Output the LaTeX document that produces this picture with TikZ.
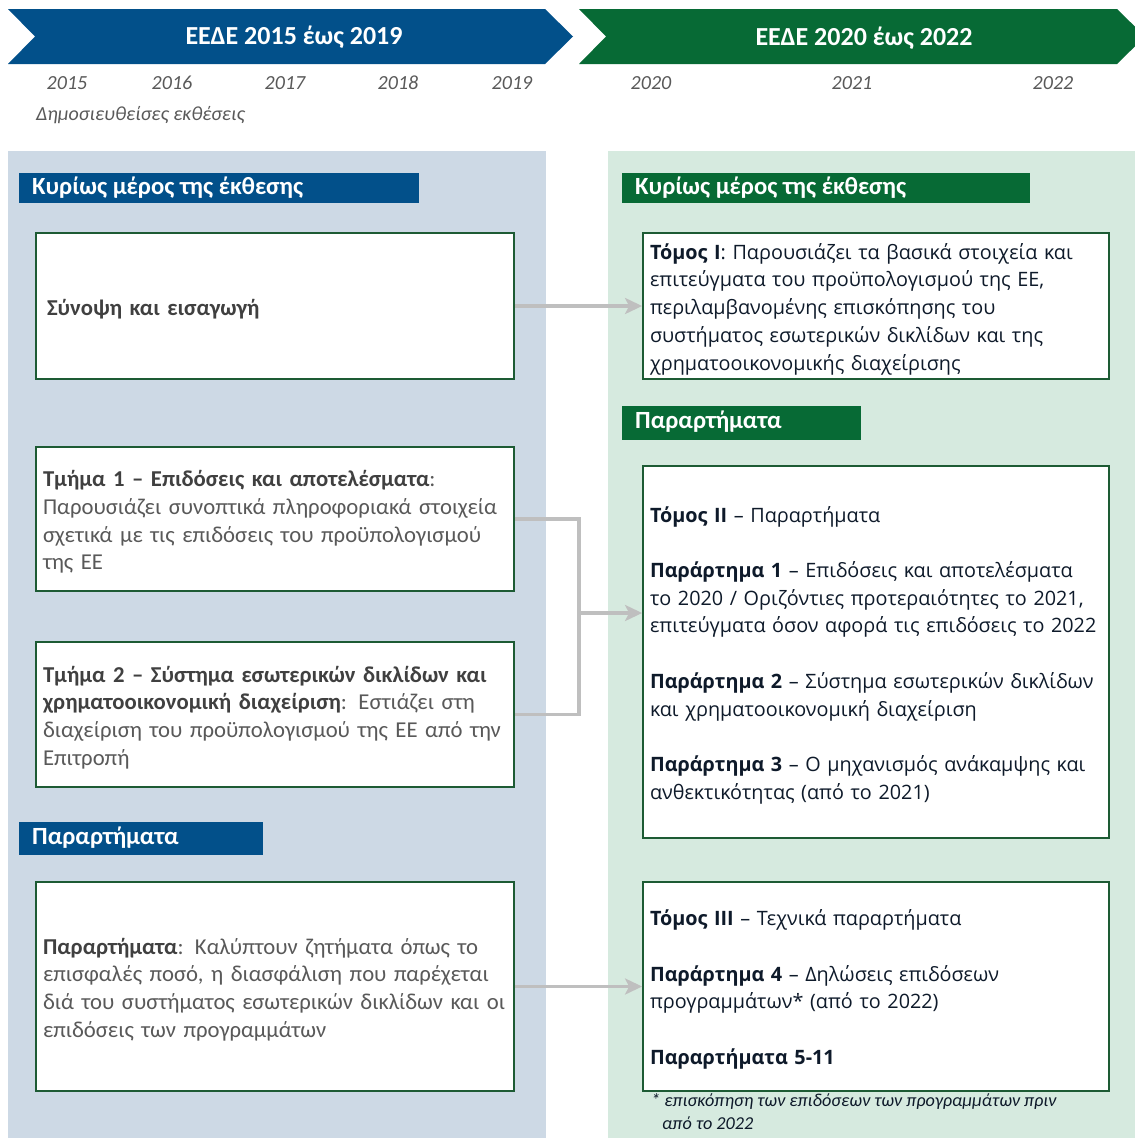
\documentclass[tikz,border=0pt]{standalone}
\usepackage{fontspec}
\setmainfont{Carlito}
\newfontfamily\osans{Open Sans}
\usetikzlibrary{arrows.meta}
\definecolor{dblue}{HTML}{02508A}
\definecolor{dgreen}{HTML}{076A35}
\definecolor{lblue}{HTML}{CDD9E5}
\definecolor{lgreen}{HTML}{D6EADF}
\definecolor{bordergreen}{HTML}{1D5B34}
\definecolor{conngray}{HTML}{BFBFBF}
\definecolor{ltext}{HTML}{595959}
\definecolor{lbold}{HTML}{404040}
\definecolor{rtext}{HTML}{0E1A2A}
\definecolor{yeargray}{HTML}{595959}
\begin{document}
\begin{tikzpicture}[x=1pt,y=-1pt,
  chevtitle/.style={text=white,font=\fontsize{26}{30}\selectfont\bfseries,inner sep=0pt},
  yearlbl/.style={text=yeargray,font=\fontsize{20}{24}\selectfont\itshape,inner sep=0pt},
  sechead/.style={text=white,font=\fontsize{24.7}{28}\selectfont\bfseries,anchor=west,inner sep=0pt},
  boxframe/.style={draw=bordergreen,line width=1.8pt,fill=white,inner sep=0pt},
  lbox/.style={boxframe,minimum width=478pt},
  rbox/.style={boxframe,minimum width=466pt},
  ltxt/.style={inner xsep=7pt,inner ysep=0pt,yshift=-3pt,text width=464pt,align=left,text=ltext,
    font=\fontsize{22.7}{27.7}\selectfont},
  rtxt/.style={inner xsep=7pt,inner ysep=0pt,yshift=-3pt,text width=452pt,align=left,text=rtext,
    font=\osans\fontsize{19.8}{27.7}\selectfont},
  conn/.style={draw=conngray,line width=3.2pt},
  arr/.style={conn,-{Stealth[length=17pt,width=16pt,inset=4pt]}},
  fnote/.style={text=rtext,font=\fontsize{18.2}{22}\selectfont\itshape,anchor=west,inner sep=0pt}
]
\clip (0,0) rectangle (1135,1138);
\fill[white] (0,0) rectangle (1135,1138);
% chevrons
\fill[dblue] (8,9) -- (545,9) -- (573,36.5) -- (545,64) -- (8,64) -- (35,36.5) -- cycle;
\fill[dgreen] (579,9) -- (1117,9) -- (1145,36.5) -- (1117,64) -- (579,64) -- (606,36.5) -- cycle;
\node[chevtitle] (t1) at (294,37) {ΕΕΔΕ 2015 έως 2019};
\node[chevtitle] (t2) at (864,38) {ΕΕΔΕ 2020 έως 2022};
% years
\node[yearlbl] (y15) at (67,83) {2015};
\node[yearlbl] (y16) at (172,83) {2016};
\node[yearlbl] (y17) at (285,83) {2017};
\node[yearlbl] (y18) at (398,83) {2018};
\node[yearlbl] (y19) at (512,83) {2019};
\node[yearlbl] (y20) at (651,83) {2020};
\node[yearlbl] (y21) at (852,83) {2021};
\node[yearlbl] (y22) at (1053,83) {2022};
\node[yearlbl,anchor=west] (pub) at (36,115) {Δημοσιευθείσες εκθέσεις};
% panels
\fill[lblue] (8,151) rectangle (546,1138);
\fill[lgreen] (608,151) rectangle (1135,1138);
% section headers
\fill[dblue] (19,173) rectangle (419,203);
\node[sechead] (h1) at (32,188) {Κυρίως μέρος της έκθεσης};
\fill[dgreen] (622,173) rectangle (1030,203);
\node[sechead] (h2) at (635,188) {Κυρίως μέρος της έκθεσης};
\fill[dblue] (19,822) rectangle (263,855);
\node[sechead] (h3) at (32,838) {Παραρτήματα};
\fill[dgreen] (622,406) rectangle (861,440);
\node[sechead] (h4) at (635,422) {Παραρτήματα};
% left boxes
\node[lbox,minimum height=146pt] (b1) at (275,306) {};
\node[ltxt] (b1t) at (b1) {\hspace*{4pt}\textcolor{lbold}{\bfseries Σύνοψη και εισαγωγή}};
\node[lbox,minimum height=144pt] (b2) at (275,519) {};
\node[ltxt] (b2t) at (b2) {\textcolor{lbold}{\bfseries Τμήμα 1 – Επιδόσεις και αποτελέσματα}:\\
Παρουσιάζει συνοπτικά πληροφοριακά στοιχεία\\
σχετικά με τις επιδόσεις του προϋπολογισμού\\
της ΕΕ};
\node[lbox,minimum height=145pt] (b3) at (275,714.5) {};
\node[ltxt] (b3t) at (b3) {\textcolor{lbold}{\bfseries Τμήμα 2 – Σύστημα εσωτερικών δικλίδων και}\\
\textcolor{lbold}{\bfseries χρηματοοικονομική διαχείριση}: Εστιάζει στη\\
διαχείριση του προϋπολογισμού της ΕΕ από την\\
Επιτροπή};
\node[lbox,minimum height=209pt] (b4) at (275,986.5) {};
\node[ltxt] (b4t) at (b4) {\textcolor{lbold}{\bfseries Παραρτήματα}: Καλύπτουν ζητήματα όπως το\\
επισφαλές ποσό, η διασφάλιση που παρέχεται\\
διά του συστήματος εσωτερικών δικλίδων και οι\\
επιδόσεις των προγραμμάτων};
% right boxes
\node[rbox,minimum height=146pt] (r1) at (876,306) {};
\node[rtxt] (r1t) at (r1) {\textbf{Τόμος I}: Παρουσιάζει τα βασικά στοιχεία και\\
επιτεύγματα του προϋπολογισμού της ΕΕ,\\
περιλαμβανομένης επισκόπησης του\\
συστήματος εσωτερικών δικλίδων και της\\
χρηματοοικονομικής διαχείρισης};
\node[rbox,minimum height=372pt] (r2) at (876,652) {};
\node[rtxt] (r2t) at (r2) {\textbf{Τόμος II} – Παραρτήματα\\[27.7pt]
\textbf{Παράρτημα 1} – Επιδόσεις και αποτελέσματα\\
το 2020 / Οριζόντιες προτεραιότητες το 2021,\\
επιτεύγματα όσον αφορά τις επιδόσεις το 2022\\[27.7pt]
\textbf{Παράρτημα 2} – Σύστημα εσωτερικών δικλίδων\\
και χρηματοοικονομική διαχείριση\\[27.7pt]
\textbf{Παράρτημα 3} – Ο μηχανισμός ανάκαμψης και\\
ανθεκτικότητας (από το 2021)};
\node[rbox,minimum height=209pt] (r3) at (876,986.5) {};
\node[rtxt] (r3t) at (r3) {\textbf{Τόμος III} – Τεχνικά παραρτήματα\\[27.7pt]
\textbf{Παράρτημα 4} – Δηλώσεις επιδόσεων\\
προγραμμάτων* (από το 2022)\\[27.7pt]
\textbf{Παραρτήματα 5-11}};
\node[fnote] (f1) at (651,1101) {* επισκόπηση των επιδόσεων των προγραμμάτων πριν};
\node[fnote] (f2) at (662,1123) {από το 2022};
% connectors
\coordinate (jx) at (579,613);
\draw[arr] (b1.east) -- (r1.west);
\draw[conn] (b2.east) -| (jx) |- (b3.east);
\draw[arr] (jx) -- (jx -| r2.west);
\draw[arr] (b4.east) -- (r3.west);
\end{tikzpicture}
\end{document}
